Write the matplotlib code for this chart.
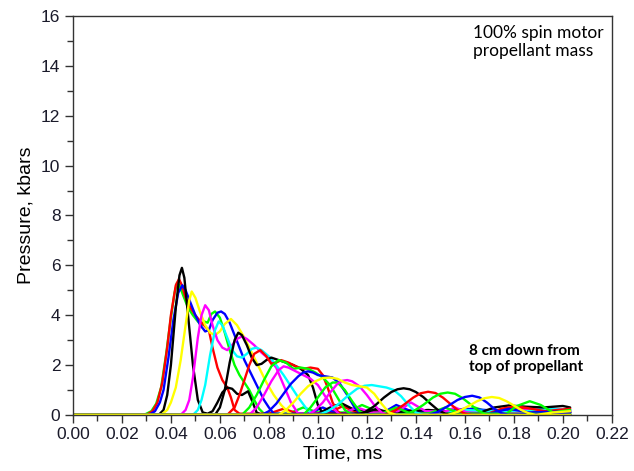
import matplotlib
matplotlib.use('Agg')
import matplotlib.pyplot as plt
from matplotlib.ticker import MultipleLocator

# Datos: tiempo (ms) y presion (kbar) de cada sensor
g1_t = [0.0, 0.029, 0.032, 0.034, 0.036, 0.038, 0.040, 0.0415, 0.0425, 0.0435, 0.045, 0.047, 0.049, 0.051, 0.0525, 0.0535, 0.055, 0.0565, 0.058, 0.060, 0.062, 0.064, 0.066, 0.068, 0.070, 0.072, 0.074, 0.076, 0.078, 0.088, 0.094, 0.100, 0.112, 0.118, 0.124, 0.140, 0.158, 0.164, 0.170, 0.203]
g1_p = [0.0, 0.0, 0.15, 0.45, 1.1, 2.4, 3.9, 4.9, 5.3, 5.2, 4.8, 4.3, 4.0, 3.75, 3.6, 3.75, 3.7, 4.05, 4.15, 3.9, 3.3, 2.6, 2.0, 1.6, 1.3, 1.0, 0.6, 0.25, 0.05, 0.05, 0.3, 0.1, 0.1, 0.4, 0.15, 0.1, 0.1, 0.3, 0.1, 0.1]

r1_t = [0.0, 0.030, 0.0325, 0.0345, 0.0365, 0.0385, 0.040, 0.042, 0.0433, 0.0445, 0.046, 0.048, 0.050, 0.052, 0.054, 0.0555, 0.057, 0.059, 0.061, 0.063, 0.0645, 0.066, 0.068, 0.080, 0.086, 0.092, 0.104, 0.110, 0.116, 0.135, 0.150, 0.176, 0.182, 0.188, 0.203]
r1_p = [0.0, 0.0, 0.15, 0.5, 1.3, 2.7, 4.0, 5.2, 5.45, 5.2, 4.7, 4.3, 4.0, 3.75, 3.55, 3.4, 2.7, 1.9, 1.4, 1.1, 0.7, 0.2, 0.05, 0.05, 0.25, 0.05, 0.05, 0.35, 0.1, 0.2, 0.1, 0.1, 0.3, 0.15, 0.1]

b1_t = [0.0, 0.031, 0.0335, 0.0355, 0.037, 0.039, 0.041, 0.043, 0.0447, 0.046, 0.048, 0.050, 0.052, 0.054, 0.0555, 0.057, 0.059, 0.0605, 0.062, 0.064, 0.066, 0.068, 0.070, 0.072, 0.074, 0.076, 0.078, 0.080, 0.082, 0.096, 0.102, 0.108, 0.126, 0.132, 0.138, 0.150, 0.160, 0.185, 0.203]
b1_p = [0.0, 0.0, 0.15, 0.5, 1.0, 2.3, 3.8, 4.9, 5.2, 5.0, 4.5, 4.0, 3.6, 3.35, 3.4, 3.8, 4.1, 4.15, 4.05, 3.7, 3.2, 2.7, 2.2, 1.8, 1.4, 1.0, 0.6, 0.3, 0.05, 0.05, 0.3, 0.05, 0.05, 0.4, 0.15, 0.1, 0.25, 0.1, 0.15]

k1_t = [0.0, 0.035, 0.037, 0.0385, 0.040, 0.042, 0.0435, 0.0445, 0.0455, 0.047, 0.049, 0.051, 0.053, 0.055, 0.057, 0.059, 0.061, 0.063, 0.065, 0.067, 0.069, 0.0715, 0.073, 0.075, 0.077, 0.100, 0.106, 0.110, 0.115, 0.130, 0.145, 0.160, 0.203]
k1_p = [0.0, 0.0, 0.2, 0.8, 2.0, 4.3, 5.6, 5.9, 5.5, 4.0, 2.0, 0.6, 0.1, 0.05, 0.15, 0.5, 0.9, 1.1, 1.05, 0.85, 0.8, 0.95, 0.6, 0.1, 0.0, 0.05, 0.35, 0.45, 0.2, 0.1, 0.2, 0.1, 0.1]

y1_t = [0.0, 0.036, 0.0385, 0.040, 0.042, 0.044, 0.046, 0.0475, 0.0485, 0.050, 0.052, 0.054, 0.056, 0.058, 0.060, 0.062, 0.0645, 0.067, 0.070, 0.073, 0.076, 0.079, 0.082, 0.085, 0.088, 0.090, 0.203]
y1_p = [0.0, 0.0, 0.2, 0.5, 1.1, 2.2, 3.6, 4.6, 4.95, 4.7, 4.1, 3.6, 3.3, 3.2, 3.35, 3.65, 3.85, 3.6, 3.1, 2.5, 1.9, 1.3, 0.8, 0.4, 0.1, 0.0, 0.0]

m1_t = [0.0, 0.044, 0.046, 0.0475, 0.049, 0.051, 0.0525, 0.054, 0.0555, 0.057, 0.059, 0.061, 0.063, 0.065, 0.067, 0.069, 0.071, 0.074, 0.077, 0.080, 0.083, 0.086, 0.089, 0.092, 0.110, 0.116, 0.122, 0.132, 0.138, 0.144, 0.180, 0.188, 0.195, 0.203]
m1_p = [0.0, 0.0, 0.2, 0.6, 1.5, 3.1, 4.0, 4.4, 4.2, 3.6, 3.0, 2.7, 2.6, 2.8, 3.05, 3.15, 3.05, 2.8, 2.5, 2.25, 1.9, 1.2, 0.5, 0.05, 0.05, 0.3, 0.1, 0.1, 0.5, 0.15, 0.1, 0.3, 0.25, 0.2]

c1_t = [0.0, 0.049, 0.051, 0.0525, 0.054, 0.056, 0.058, 0.0595, 0.061, 0.063, 0.065, 0.067, 0.069, 0.071, 0.073, 0.075, 0.077, 0.080, 0.083, 0.086, 0.089, 0.092, 0.095, 0.098, 0.150, 0.160, 0.182, 0.192, 0.203]
c1_p = [0.0, 0.0, 0.2, 0.6, 1.2, 2.4, 3.4, 3.75, 3.6, 3.1, 2.6, 2.35, 2.3, 2.45, 2.65, 2.7, 2.6, 2.35, 2.0, 1.6, 1.15, 0.7, 0.3, 0.0, 0.05, 0.2, 0.1, 0.25, 0.2]

k2_t = [0.0, 0.058, 0.060, 0.062, 0.064, 0.066, 0.0675, 0.069, 0.071, 0.073, 0.075, 0.077, 0.079, 0.081, 0.084, 0.087, 0.090, 0.093, 0.096, 0.098, 0.100, 0.102, 0.118, 0.124, 0.130, 0.165, 0.172, 0.178, 0.185, 0.192, 0.200, 0.203]
k2_p = [0.0, 0.0, 0.3, 1.0, 2.1, 3.0, 3.3, 3.2, 2.8, 2.3, 2.0, 2.05, 2.2, 2.3, 2.2, 2.1, 2.0, 1.85, 1.6, 1.1, 0.4, 0.05, 0.05, 0.25, 0.05, 0.05, 0.3, 0.38, 0.33, 0.3, 0.36, 0.3]

r2_t = [0.0, 0.063, 0.066, 0.068, 0.070, 0.072, 0.074, 0.0765, 0.079, 0.081, 0.083, 0.085, 0.088, 0.091, 0.094, 0.097, 0.100, 0.102, 0.104, 0.106, 0.108, 0.110, 0.168, 0.175, 0.181, 0.187, 0.193, 0.203]
r2_p = [0.0, 0.0, 0.3, 0.8, 1.4, 2.0, 2.45, 2.6, 2.35, 2.05, 2.1, 2.2, 2.1, 1.95, 1.85, 1.9, 1.85, 1.6, 1.1, 0.5, 0.15, 0.0, 0.0, 0.25, 0.35, 0.25, 0.15, 0.25]

g2_t = [0.0, 0.069, 0.072, 0.075, 0.078, 0.081, 0.084, 0.087, 0.090, 0.093, 0.096, 0.099, 0.102, 0.105, 0.108, 0.111, 0.114, 0.126, 0.132, 0.138, 0.203]
g2_p = [0.0, 0.0, 0.3, 0.8, 1.4, 1.95, 2.2, 2.1, 1.85, 1.9, 1.85, 1.7, 1.5, 1.2, 0.7, 0.2, 0.0, 0.05, 0.3, 0.05, 0.05]

m2_t = [0.0, 0.072, 0.075, 0.078, 0.081, 0.084, 0.086, 0.088, 0.091, 0.094, 0.097, 0.100, 0.103, 0.106, 0.109, 0.150, 0.156, 0.162, 0.203]
m2_p = [0.0, 0.0, 0.3, 0.8, 1.35, 1.8, 1.95, 1.9, 1.75, 1.6, 1.45, 1.2, 0.75, 0.3, 0.0, 0.05, 0.3, 0.05, 0.1]

b2_t = [0.0, 0.077, 0.080, 0.083, 0.086, 0.089, 0.092, 0.094, 0.096, 0.098, 0.100, 0.103, 0.106, 0.109, 0.112, 0.115, 0.118, 0.170, 0.178, 0.186, 0.203]
b2_p = [0.0, 0.0, 0.15, 0.45, 0.85, 1.25, 1.55, 1.7, 1.75, 1.7, 1.6, 1.55, 1.5, 1.25, 0.8, 0.3, 0.0, 0.05, 0.25, 0.1, 0.15]

g3_t = [0.0, 0.094, 0.097, 0.100, 0.103, 0.106, 0.108, 0.111, 0.114, 0.117, 0.120, 0.145, 0.152, 0.158, 0.203]
g3_p = [0.0, 0.0, 0.3, 0.7, 1.1, 1.3, 1.3, 1.0, 0.55, 0.15, 0.0, 0.05, 0.3, 0.05, 0.05]

m3_t = [0.0, 0.096, 0.099, 0.102, 0.105, 0.108, 0.110, 0.112, 0.114, 0.117, 0.120, 0.123, 0.126, 0.129, 0.203]
m3_p = [0.0, 0.0, 0.2, 0.5, 0.9, 1.25, 1.37, 1.4, 1.35, 1.15, 0.8, 0.4, 0.1, 0.0, 0.0]

c2_t = [0.0, 0.100, 0.104, 0.108, 0.112, 0.116, 0.119, 0.122, 0.125, 0.128, 0.131, 0.134, 0.137, 0.140, 0.143, 0.203]
c2_p = [0.0, 0.0, 0.15, 0.4, 0.75, 1.05, 1.17, 1.2, 1.15, 1.1, 1.0, 0.75, 0.4, 0.1, 0.0, 0.0]

k3_t = [0.0, 0.115, 0.119, 0.123, 0.127, 0.130, 0.1325, 0.135, 0.1375, 0.140, 0.143, 0.146, 0.149, 0.152, 0.155, 0.203]
k3_p = [0.0, 0.0, 0.1, 0.35, 0.7, 0.92, 1.03, 1.07, 1.03, 0.92, 0.72, 0.45, 0.2, 0.05, 0.0, 0.0]

r3_t = [0.0, 0.127, 0.131, 0.135, 0.139, 0.142, 0.145, 0.148, 0.151, 0.154, 0.157, 0.160, 0.163, 0.203]
r3_p = [0.0, 0.0, 0.15, 0.4, 0.7, 0.87, 0.93, 0.88, 0.7, 0.45, 0.2, 0.05, 0.0, 0.0]

g4_t = [0.0, 0.135, 0.139, 0.143, 0.147, 0.150, 0.153, 0.156, 0.159, 0.162, 0.165, 0.168, 0.171, 0.177, 0.181, 0.1865, 0.191, 0.196, 0.203]
g4_p = [0.0, 0.0, 0.15, 0.4, 0.7, 0.85, 0.9, 0.85, 0.68, 0.45, 0.2, 0.05, 0.0, 0.05, 0.35, 0.55, 0.4, 0.1, 0.2]

b3_t = [0.0, 0.145, 0.149, 0.153, 0.157, 0.160, 0.163, 0.166, 0.169, 0.172, 0.175, 0.178, 0.203]
b3_p = [0.0, 0.0, 0.12, 0.35, 0.6, 0.72, 0.77, 0.7, 0.5, 0.25, 0.07, 0.0, 0.1]

y2_t = [0.0, 0.084, 0.087, 0.090, 0.093, 0.096, 0.099, 0.102, 0.105, 0.108, 0.111, 0.114, 0.117, 0.120, 0.123, 0.126, 0.129, 0.132, 0.203]
y2_p = [0.0, 0.0, 0.2, 0.5, 0.85, 1.15, 1.35, 1.48, 1.5, 1.45, 1.3, 1.2, 1.15, 1.1, 0.85, 0.45, 0.1, 0.0, 0.0]

y3_t = [0.0, 0.153, 0.157, 0.161, 0.165, 0.168, 0.171, 0.174, 0.177, 0.180, 0.183, 0.186, 0.189, 0.196, 0.203]
y3_p = [0.0, 0.0, 0.12, 0.33, 0.55, 0.67, 0.72, 0.68, 0.55, 0.38, 0.2, 0.07, 0.0, 0.1, 0.15]

curvas = [
    (g1_t, g1_p, '#00ff00'), (r1_t, r1_p, '#ff0000'), (b1_t, b1_p, '#0000ff'),
    (k1_t, k1_p, '#000000'), (y1_t, y1_p, '#ffff00'), (m1_t, m1_p, '#ff00ff'),
    (c1_t, c1_p, '#00ffff'), (k2_t, k2_p, '#000000'), (r2_t, r2_p, '#ff0000'),
    (g2_t, g2_p, '#00ff00'), (m2_t, m2_p, '#ff00ff'), (b2_t, b2_p, '#0000ff'),
    (g3_t, g3_p, '#00ff00'), (m3_t, m3_p, '#ff00ff'), (c2_t, c2_p, '#00ffff'),
    (k3_t, k3_p, '#000000'), (r3_t, r3_p, '#ff0000'), (g4_t, g4_p, '#00ff00'),
    (b3_t, b3_p, '#0000ff'), (y2_t, y2_p, '#ffff00'), (y3_t, y3_p, '#ffff00'),
]

plt.rcParams['font.family'] = ['Liberation Sans', 'DejaVu Sans']

fig = plt.figure(figsize=(6.34, 4.71), dpi=100)
ax = fig.add_axes([0.115, 0.119, 0.85, 0.847])

for t, p, color in curvas:
    ax.plot(t, p, color=color, linewidth=1.7, solid_capstyle='round', solid_joinstyle='round')

ax.set_xlim(0, 0.22)
ax.set_ylim(0, 16)
ax.xaxis.set_major_locator(MultipleLocator(0.02))
ax.xaxis.set_minor_locator(MultipleLocator(0.01))
ax.yaxis.set_major_locator(MultipleLocator(2))
ax.yaxis.set_minor_locator(MultipleLocator(1))
ax.xaxis.set_major_formatter(plt.FuncFormatter(lambda v, pos: '%.2f' % v))
ax.tick_params(which='major', direction='out', length=6, width=1, color='#333333',
               labelsize=12.5, labelcolor='#1a1a2a', pad=3)
ax.tick_params(which='minor', direction='out', length=4, width=1, color='#333333')
for s in ax.spines.values():
    s.set_color('#333333')
    s.set_linewidth(1)

ax.set_xlabel('Time, ms', fontsize=14, labelpad=2)
ax.set_ylabel('Pressure, kbars', fontsize=14, labelpad=5)

ax.text(0.742, 0.978, '100% spin motor\npropellant mass', transform=ax.transAxes,
        fontsize=12.5, family=['Lato', 'DejaVu Sans'], va='top', ha='left', linespacing=1.2)
ax.text(0.735, 0.178, '8 cm down from\ntop of propellant', transform=ax.transAxes,
        fontsize=11, family=['Lato', 'DejaVu Sans'], fontweight='bold', va='top', ha='left',
        linespacing=1.15)

fig.savefig('out.png', dpi=100)
